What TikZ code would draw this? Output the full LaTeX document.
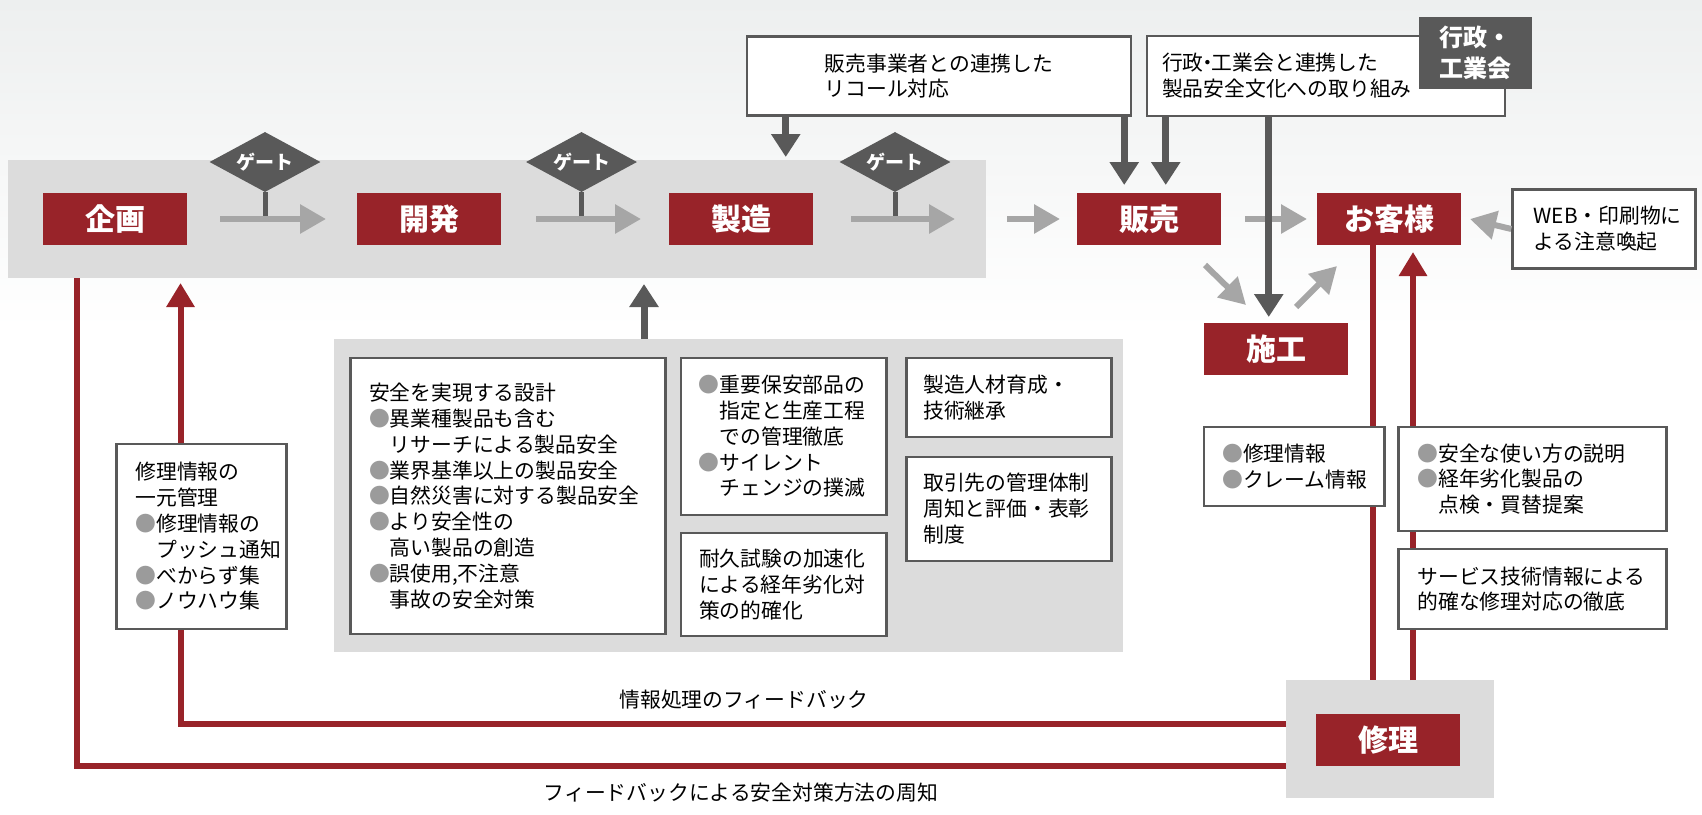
\documentclass[tikz,border=0pt]{standalone}
\usepackage{fontspec}
\setmainfont{Noto Sans CJK JP}
\usetikzlibrary{positioning,arrows.meta,shapes.geometric}

\definecolor{stagered}{HTML}{982329}
\definecolor{gategray}{HTML}{595959}
\definecolor{flowgray}{HTML}{A6A6A6}
\definecolor{bandgray}{HTML}{DCDCDC}
\definecolor{boxgray}{HTML}{595959}
\definecolor{bulletgray}{HTML}{9B9B9B}
\definecolor{bgtop}{HTML}{EDEFEF}

\newcommand\bodyfont{\fontsize{20.8}{25.8}\selectfont}
\newcommand\stagefont{\bfseries\fontsize{30}{34}\selectfont}
\newcommand\gatefont{\bfseries\fontsize{19}{22}\selectfont}
\newcommand\tagfont{\bfseries\fontsize{24}{31}\selectfont}
\newcommand\bul{{\color{bulletgray}●}}
\newcommand\indt{\hspace*{1em}}
\newcommand\ndot{\hspace{-0.3em}・\hspace{-0.3em}}

\tikzset{
	stage/.style={fill=stagered, text=white, font=\stagefont, minimum width=144pt, minimum height=52pt, inner sep=0pt, outer sep=0pt},
	gate/.style={diamond, aspect=1.85, fill=gategray, text=white, font=\gatefont, minimum width=111pt, minimum height=60pt, inner sep=0pt},
	panel/.style={fill=bandgray, inner sep=0pt, outer sep=0pt, anchor=north west},
	infobox/.style={draw=boxgray, line width=2.5pt, fill=white, align=left, font=\bodyfont, inner ysep=0pt},
	flow/.style={draw=flowgray, line width=6pt, -{Triangle[length=26pt,width=28pt]}},
	push/.style={draw=gategray, line width=7pt, -{Triangle[length=23pt,width=28pt]}},
	stem/.style={draw=gategray, line width=5pt},
	feed/.style={draw=stagered, line width=6pt},
	feedarrow/.style={feed, -{Triangle[length=24pt,width=27pt]}}
}

\begin{document}
\begin{tikzpicture}[x=1pt,y=-1pt]
	\useasboundingbox (0,0) rectangle (1702,814);
	\fill[white] (0,0) rectangle (1702,814);
	\shade[top color=bgtop, bottom color=white] (0,0) rectangle (1702,330);

	\node[panel, minimum width=978pt, minimum height=118pt] (band) at (8,160) {};
	\node[panel, minimum width=789pt, minimum height=313pt] (measures) at (334,339) {};
	\node[panel, minimum width=208pt, minimum height=118pt] (repbg) at (1286,680) {};

	\node[stage] (kikaku) at (115,219) {企画};
	\node[stage, right=170pt of kikaku] (kaihatsu) {開発};
	\node[stage, right=168pt of kaihatsu] (seizo) {製造};
	\node[stage, right=264pt of seizo] (hanbai) {販売};
	\node[stage, right=96pt of hanbai] (okyaku) {お客様};
	\node[stage] (seko) at (1276,349) {施工};
	\node[stage] (shuri) at (1388,740) {修理};

	\node[gate] (gate1) at (265,162) {ゲート};
	\node[gate] (gate2) at (581.5,162) {ゲート};
	\node[gate] (gate3) at (895,162) {ゲート};
	\draw[stem] (gate1.south) -- (gate1.south |- kikaku.east);
	\draw[stem] (gate2.south) -- (gate2.south |- kikaku.east);
	\draw[stem] (gate3.south) -- (gate3.south |- kikaku.east);

	\node[infobox, minimum width=384pt, minimum height=79pt] (recall) at (939,76) {販売事業者との連携した\\リコール対応};
	\node[infobox, text width=328pt, inner xsep=15pt, minimum height=80pt] (gyosei) at (1326,76) {行政\ndot 工業会と連携した\\製品安全文化への取り組み};
	\node[fill=gategray, text=white, font=\tagfont, align=left, minimum width=113pt, minimum height=72pt, inner sep=0pt] (tag) at (1475,53) {行政・\\工業会};
	\node[infobox, text width=141pt, inner xsep=21pt, minimum height=79pt] (web) at (1604,229) {WEB・印刷物に\\よる注意喚起};

	\draw[flow] ([xshift=33pt]kikaku.east) -- ([xshift=-31pt]kaihatsu.west);
	\draw[flow] ([xshift=35pt]kaihatsu.east) -- ([xshift=-28pt]seizo.west);
	\draw[flow] ([xshift=38pt]seizo.east) -- ([xshift=-31pt]band.east |- seizo.east);
	\draw[flow] ([xshift=21pt]band.east |- hanbai.west) -- ([xshift=-17pt]hanbai.west);
	\draw[flow] ([xshift=24pt]hanbai.east) -- ([xshift=-10pt]okyaku.west);
	\draw[flow] (web.west) -- ([xshift=9pt]okyaku.east);
	\draw[flow] ([xshift=-16pt,yshift=-20pt]hanbai.south east) -- ([xshift=42pt,yshift=18pt]seko.north west);
	\draw[flow] ([xshift=20pt,yshift=16pt]seko.north) -- ([xshift=20pt,yshift=-21pt]okyaku.south west);

	\draw[push, shorten >=3pt] ([xshift=40pt]recall.south west) -- ([xshift=40pt]recall.south west |- band.north);
	\draw[push, shorten >=8pt] ([xshift=-8pt]recall.south east) -- ([xshift=-8pt]recall.south east |- hanbai.north);
	\draw[push, shorten >=8pt] ([xshift=20pt]gyosei.south west) -- ([xshift=20pt]gyosei.south west |- hanbai.north);
	\draw[push, shorten >=6pt] ([xshift=123pt]gyosei.south west) -- ([xshift=123pt]gyosei.south west |- seko.north);
	\draw[push, shorten >=6pt] ([xshift=310pt]measures.north west) -- ([xshift=310pt]measures.north west |- band.south);

	\coordinate (fbin) at (180.5,724);
	\coordinate (fbout) at (77,766);
	\draw[feedarrow, shorten >=5pt] (repbg.west |- fbin) -- (fbin) -- (fbin |- band.south);
	\draw[feed] (repbg.west |- fbout) -- (fbout) -- (fbout |- band.south);
	\draw[feed] ([xshift=-16pt]okyaku.south) -- ([xshift=-16pt]okyaku.south |- repbg.north);
	\draw[feedarrow, shorten >=7pt] ([xshift=24pt]okyaku.south |- repbg.north) -- ([xshift=24pt]okyaku.south);
	\node[font=\bodyfont] (fbinlabel) at (744,700) {情報処理のフィードバック};
	\node[font=\bodyfont] (fboutlabel) at (741,793) {フィードバックによる安全対策方法の周知};

	\node[infobox, text width=278pt, inner xsep=18.3pt, minimum height=276pt] (design) at (508,496) {安全を実現する設計\\\bul 異業種製品も含む\\\indt リサーチによる製品安全\\\bul 業界基準以上の製品安全\\\bul 自然災害に対する製品安全\\\bul より安全性の\\\indt 高い製品の創造\\\bul 誤使用,不注意\\\indt 事故の安全対策};
	\node[infobox, text width=169.7pt, inner xsep=18pt, minimum height=157pt, anchor=north west] (parts) at ([xshift=13pt]design.north east) {\bul 重要保安部品の\\\indt 指定と生産工程\\\indt での管理徹底\\\bul サイレント\\\indt チェンジの撲滅};
	\node[infobox, text width=169pt, inner xsep=18.3pt, minimum height=103pt, anchor=north west] (endurance) at ([yshift=-15.7pt]parts.south west) {耐久試験の加速化\\による経年劣化対\\策の的確化};
	\node[infobox, text width=172pt, inner xsep=16.5pt, minimum height=79pt, anchor=north west] (training) at ([xshift=17.7pt]parts.north east) {製造人材育成・\\技術継承};
	\node[infobox, text width=172pt, inner xsep=16.5pt, minimum height=104pt, anchor=north west] (supplier) at ([yshift=-17.3pt]training.south west) {取引先の管理体制\\周知と評価・表彰\\制度};

	\node[infobox, text width=132pt, inner xsep=19pt, minimum height=185pt] (central) at (201.5,536.5) {修理情報の\\一元管理\\\bul 修理情報の\\\indt プッシュ通知\\\bul べからず集\\\bul ノウハウ集};
	\node[infobox, text width=143.5pt, inner xsep=18.5pt, minimum height=79pt] (claims) at (1294,466.3) {\bul 修理情報\\\bul クレーム情報};
	\node[infobox, text width=230pt, inner xsep=19pt, minimum height=104pt] (usage) at (1532.5,479) {\bul 安全な使い方の説明\\\bul 経年劣化製品の\\\indt 点検・買替提案};
	\node[infobox, text width=230pt, inner xsep=19pt, minimum height=80pt, anchor=north west] (service) at ([yshift=-15.7pt]usage.south west) {サービス技術情報による\\的確な修理対応の徹底};
\end{tikzpicture}
\end{document}
